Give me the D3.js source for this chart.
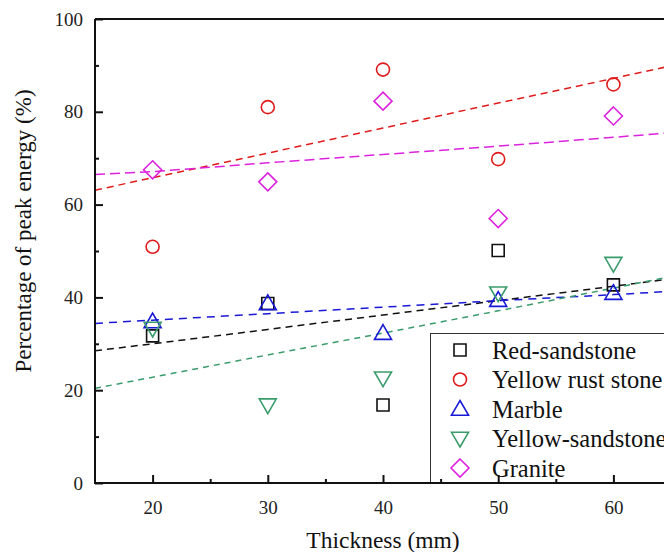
<!DOCTYPE html>
<html>
<head>
<meta charset="utf-8">
<script src="https://cdn.jsdelivr.net/npm/d3@7"></script>
<style>
	body { margin: 0; background: white; }
	#content { width: 664px; height: 552px; overflow: hidden; }
</style>
</head>
<body>
<div id="content"></div>
<script>

var serif = "'Times New Roman', 'Liberation Serif', Times, 'DejaVu Serif', serif";

// thickness values (mm)
var thickness = [20, 30, 40, 50, 60];
var fitX = [15, 20, 30, 40, 50, 60, 65];

var rockNames = ["Red-sandstone", "Yellow rust stone", "Marble", "Yellow-sandstone", "Granite"];
var rockColors = ["#111111", "#e01b1b", "#1818d6", "#3a9c6c", "#dd22dd"];
var rockShapes = ["square", "circle", "triangle", "triangleDown", "diamond"];

// measured percentage of peak energy (%)
var redSandstone = [31.7, 38.7, 16.8, 50.1, 42.7];
var yellowRust = [50.9, 81.0, 89.1, 69.8, 85.9];
var marble = [34.8, 38.7, 32.3, 39.4, 40.9];
var yellowSandstone = [33.3, 16.8, 22.6, 40.9, 47.3];
var granite = [67.5, 64.9, 82.3, 57.0, 79.1];

// fitted trend lines, read at fitX
var redSandstoneFit = [28.5, 30.0, 33.1, 36.2, 39.3, 42.4, 44.0];
var yellowRustFit = [63.1, 65.8, 71.1, 76.5, 81.9, 87.2, 89.9];
var marbleFit = [34.4, 35.1, 36.5, 37.9, 39.3, 40.6, 41.3];
var yellowSandstoneFit = [20.4, 22.8, 27.6, 32.3, 37.1, 42.0, 44.5];
var graniteFit = [66.5, 67.1, 69.0, 70.8, 72.6, 74.5, 75.5];

var yTicks = [0, 20, 40, 60, 80, 100];
var yMinor = [10, 30, 50, 70, 90];
var xTicks = [20, 30, 40, 50, 60];
var xMinor = [25, 35, 45, 55, 65];

function main() {
	var { svg, width, height } = initSVG();

	var values = [redSandstone, yellowRust, marble, yellowSandstone, granite];
	var fits = [redSandstoneFit, yellowRustFit, marbleFit, yellowSandstoneFit, graniteFit];

	var x = d3.scaleLinear().domain([15, 65]).range([95, 671]);
	var y = d3.scaleLinear().domain([0, 100]).range([483, 19]);

	// fit lines
	var line = d3.line()
		.x(function (d) { return x(d[0]); })
		.y(function (d) { return y(d[1]); });

	var dashes = ["7,5", "7,5", "8,6", "6,5", "10,5"];
	fits.forEach(function (f, i) {
		svg.append('path')
			.datum(fitX.map(function (v, j) { return [v, f[j]]; }))
			.attr('d', line)
			.attr('fill', 'none')
			.attr('stroke', rockColors[i])
			.attr('stroke-width', 1.5)
			.attr('stroke-dasharray', dashes[i]);
	});

	// points
	values.forEach(function (vals, i) {
		svg.append('g')
			.selectAll('path')
			.data(vals)
			.enter()
			.append('path')
			.attr('d', symbolPath(rockShapes[i]))
			.attr('transform', function (d, j) { return "translate(" + x(thickness[j]) + "," + y(d) + ")"; })
			.attr('fill', 'none')
			.attr('stroke', rockColors[i])
			.attr('stroke-width', 1.6);
	});

	// legend
	var legend = svg.append('g');
	legend.append('rect')
		.attr('x', 430.5).attr('y', 333.5)
		.attr('width', 260).attr('height', 150)
		.attr('fill', 'white')
		.attr('stroke', '#333')
		.attr('stroke-width', 1);
	rockNames.forEach(function (name, i) {
		var ly = 350 + i * 29.5;
		legend.append('path')
			.attr('d', symbolPath(rockShapes[i]))
			.attr('transform', "translate(460," + ly + ")")
			.attr('fill', 'none')
			.attr('stroke', rockColors[i])
			.attr('stroke-width', 1.6);
		legend.append('text')
			.attr('x', 492)
			.attr('y', ly)
			.attr('dy', '0.35em')
			.attr('font-family', serif)
			.attr('font-size', 24.5)
			.attr('fill', '#111')
			.text(name);
	});

	// axes
	var axisGroup = svg.append('g');
	var yAxis = d3.axisLeft(y).tickValues(yTicks).tickSize(-8).tickPadding(12);
	var yMinorAxis = d3.axisLeft(y).tickValues(yMinor).tickSize(-4).tickFormat("");
	var xAxis = d3.axisBottom(x).tickValues(xTicks).tickSize(-8).tickPadding(18);
	var xMinorAxis = d3.axisBottom(x).tickValues(xMinor).tickSize(-4).tickFormat("");

	[axisGroup.append('g').attr('transform', 'translate(95,0)').call(yAxis),
	 axisGroup.append('g').attr('transform', 'translate(95,0)').call(yMinorAxis),
	 axisGroup.append('g').attr('transform', 'translate(0,483)').call(xAxis),
	 axisGroup.append('g').attr('transform', 'translate(0,483)').call(xMinorAxis)
	].forEach(function (g) {
		g.attr('font-family', serif).attr('font-size', 19);
		g.select('.domain').remove();
		g.selectAll('line').attr('stroke', '#111').attr('stroke-width', 2);
		g.selectAll('text').attr('fill', '#222');
	});

	// frame
	axisGroup.append('path')
		.attr('d', "M95,19V483H671")
		.attr('fill', 'none').attr('stroke', '#111').attr('stroke-width', 2);
	axisGroup.append('path')
		.attr('d', "M95,19H671")
		.attr('fill', 'none').attr('stroke', '#111').attr('stroke-width', 2);

	// titles
	svg.append('text')
		.attr('x', 383).attr('y', 540)
		.attr('dy', '0.35em')
		.attr('text-anchor', 'middle')
		.attr('font-family', serif)
		.attr('font-size', 23.5)
		.attr('fill', '#111')
		.text("Thickness (mm)");
	svg.append('text')
		.attr('transform', 'translate(23,231) rotate(-90)')
		.attr('dy', '0.35em')
		.attr('text-anchor', 'middle')
		.attr('font-family', serif)
		.attr('font-size', 23)
		.attr('fill', '#111')
		.text("Percentage of peak energy (%)");
}

function symbolPath(shape) {
	if (shape == "square") return "M-6,-6H6V6H-6Z";
	if (shape == "circle") return "M6.5,0A6.5,6.5 0 1,1 -6.5,0A6.5,6.5 0 1,1 6.5,0Z";
	if (shape == "triangle") return "M0,-8.5L8.5,6.2H-8.5Z";
	if (shape == "triangleDown") return "M0,8.5L8.5,-6.2H-8.5Z";
	return "M0,-9L9,0L0,9L-9,0Z";
}

function initSVG() {
	var width = 664;
	var height = 552;
	var svg = d3.select("#content")
		.append("svg")
		.attr("width", width)
		.attr("height", height);
	return { svg, width, height };
}

(() => {
	main();
})()
</script>
</body>
</html>
